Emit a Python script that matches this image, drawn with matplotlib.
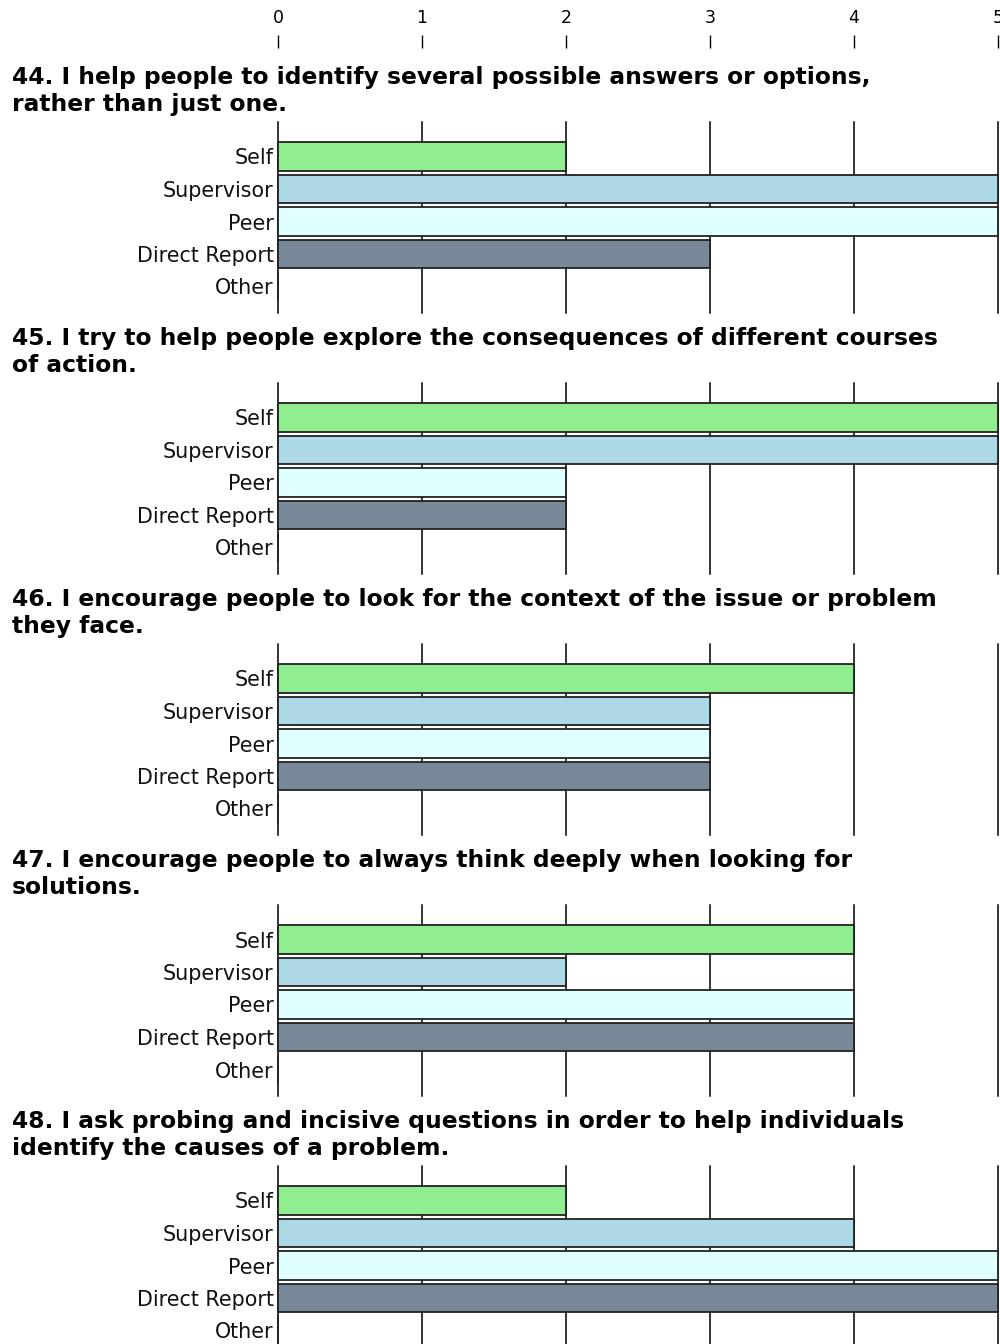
import matplotlib
matplotlib.use('Agg')
import matplotlib.pyplot as plt
import numpy as np

# survey items, respondent groups and mean scores (0-5)
categories = ['Self', 'Supervisor', 'Peer', 'Direct Report', 'Other']
bar_colors = ['#90EE90', '#ADD8E6', '#E0FFFF', '#778899', '#FFFFFF']
scale_ticks = [0, 1, 2, 3, 4, 5]

titles = [
    ('44. I help people to identify several possible answers or options,', 'rather than just one.'),
    ('45. I try to help people explore the consequences of different courses', 'of action.'),
    ('46. I encourage people to look for the context of the issue or problem', 'they face.'),
    ('47. I encourage people to always think deeply when looking for', 'solutions.'),
    ('48. I ask probing and incisive questions in order to help individuals', 'identify the causes of a problem.'),
]

q44 = [2, 5, 5, 3, 0]
q45 = [5, 5, 2, 2, 0]
q46 = [4, 3, 3, 3, 0]
q47 = [4, 2, 4, 4, 0]
q48 = [2, 4, 5, 5, 0]
scores = [q44, q45, q46, q47, q48]

W, H = 1000, 1344
fig = plt.figure(figsize=(W / 100, H / 100), dpi=100)
fig.patch.set_facecolor('white')

def fy(px):
    return 1 - px / H

x0, x1 = 278, 998

# scale along the top
top = fig.add_axes([x0 / W, fy(48), (x1 - x0) / W, 13 / H])
top.set_xlim(0, 5)
top.set_ylim(0, 1)
top.vlines(scale_ticks, 0, 1, color='black', lw=1.0, clip_on=False)
top.xaxis.tick_top()
top.set_xticks(scale_ticks)
top.set_xticklabels([str(t) for t in scale_ticks], fontsize=12.5, family='DejaVu Sans')
top.tick_params(axis='x', length=0, pad=6)
top.set_yticks([])
for s in top.spines.values():
    s.set_visible(False)
top.patch.set_alpha(0)

pitch = 261
panel_h = 191
for k, (title, vals) in enumerate(zip(titles, scores)):
    T = 122 + pitch * k
    fig.text(12 / W, fy(T - 38), title[0], fontsize=16.8, fontweight='bold',
             family='DejaVu Sans', va='baseline', ha='left')
    fig.text(12 / W, fy(T - 11), title[1], fontsize=16.8, fontweight='bold',
             family='DejaVu Sans', va='baseline', ha='left')

    ax = fig.add_axes([x0 / W, fy(T + panel_h), (x1 - x0) / W, panel_h / H])
    ax.set_xlim(0, 5)
    ax.set_ylim(4 + 26.5 / 32.5, -34.5 / 32.5)
    for t in scale_ticks:
        ax.axvline(t, color='black', lw=1.1, zorder=0, clip_on=False)
    bars = ax.barh(range(len(categories)), vals, height=0.877, color=bar_colors,
                   edgecolor='#222222', lw=1.3, zorder=2)
    for b in bars:
        b.set_clip_on(False)
    ax.set_xticks([])
    ax.set_yticks(range(len(categories)))
    ax.set_yticklabels(categories, fontsize=14.9, family='DejaVu Sans', color='#111111')
    ax.tick_params(axis='y', length=0, pad=3)
    for s in ax.spines.values():
        s.set_visible(False)
    ax.patch.set_alpha(0)

fig.savefig('out.png', dpi=100, facecolor='white')
